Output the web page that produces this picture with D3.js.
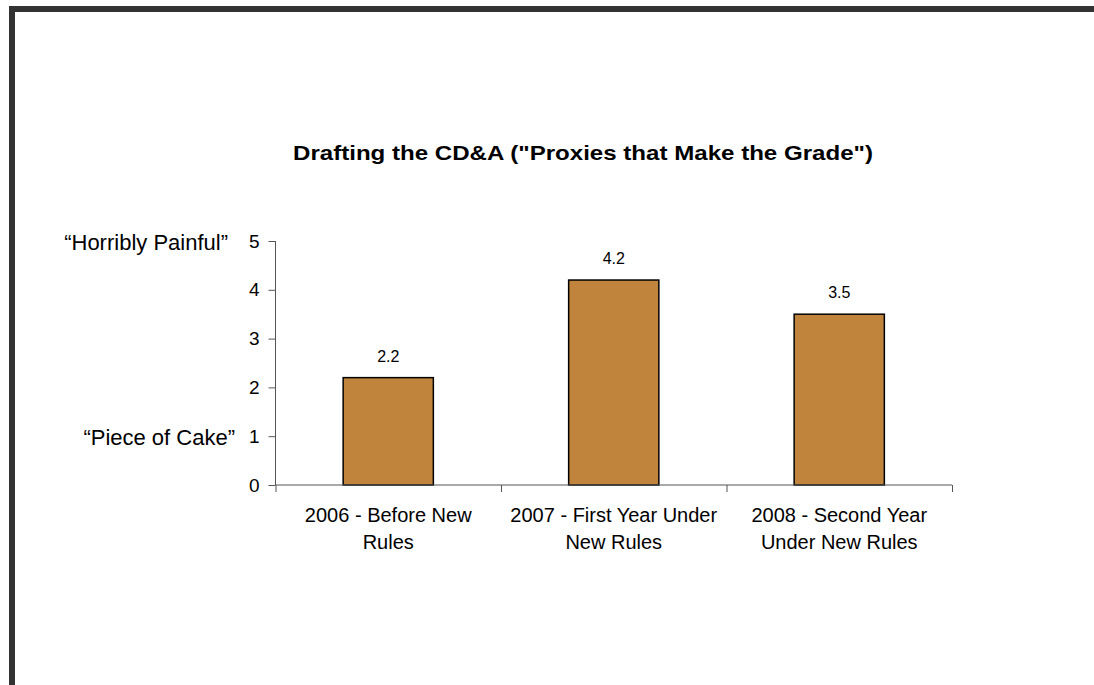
<!DOCTYPE html>
<html>
<head>
<meta charset="utf-8">
<script src="https://cdn.jsdelivr.net/npm/d3@7"></script>
<style>
  html, body { margin: 0; padding: 0; background: #fff; }
  svg { display: block; }
  text { font-family: "Liberation Sans", Arial, sans-serif; fill: #000; }
</style>
</head>
<body>
<svg id="chart" width="1094" height="685"></svg>
<script>
// Survey results: how painful was drafting the CD&A each year
const categories = ["2006", "2007", "2008"];
const categoryLines = [
  ["2006 - Before New", "Rules"],
  ["2007 - First Year Under", "New Rules"],
  ["2008 - Second Year", "Under New Rules"]
];
const values = [2.2, 4.2, 3.5];
const yTicks = [0, 1, 2, 3, 4, 5];
const scaleLabels = [
  { value: 5, text: "\u201CHorribly Painful\u201D" },
  { value: 1, text: "\u201CPiece of Cake\u201D" }
];
const title = "Drafting the CD&A (\"Proxies that Make the Grade\")";

const svg = d3.select("#chart");

// Frame along the top and left edges
svg.append("rect").attr("x", 9).attr("y", 6).attr("width", 1085).attr("height", 6).attr("fill", "#333");
svg.append("rect").attr("x", 9).attr("y", 6).attr("width", 6).attr("height", 679).attr("fill", "#333");

const plot = { left: 275.5, right: 952, top: 241, bottom: 485 };

const x = d3.scaleBand()
  .domain(categories)
  .range([plot.left, plot.right])
  .paddingInner(0.6)
  .paddingOuter(0.3);

const xEdges = d3.scaleLinear().domain([0, categories.length]).range([plot.left, plot.right]);

const y = d3.scaleLinear().domain([0, 5]).range([plot.bottom, plot.top]);

// Title
svg.append("text")
  .attr("x", 583)
  .attr("y", 160)
  .attr("text-anchor", "middle")
  .attr("font-weight", "bold")
  .attr("font-size", 21)
  .attr("textLength", 580)
  .attr("lengthAdjust", "spacingAndGlyphs")
  .text(title);

// Bars
svg.append("g").selectAll("rect")
  .data(values)
  .join("rect")
  .attr("x", (d, i) => x(categories[i]))
  .attr("y", d => y(d))
  .attr("width", x.bandwidth())
  .attr("height", d => y(0) - y(d))
  .attr("fill", "#C0843D")
  .attr("stroke", "#000")
  .attr("stroke-width", 1.5);

// Value labels
svg.append("g").selectAll("text")
  .data(values)
  .join("text")
  .attr("x", (d, i) => x(categories[i]) + x.bandwidth() / 2)
  .attr("y", d => y(d) - 16)
  .attr("text-anchor", "middle")
  .attr("font-size", 16)
  .text(d => d.toFixed(1));

// Y axis
const yAxis = svg.append("g")
  .attr("transform", `translate(${plot.left},0)`)
  .call(d3.axisLeft(y).tickValues(yTicks).tickSize(7).tickPadding(9).tickFormat(d3.format("d")));
yAxis.selectAll("path, line").attr("stroke", "#555").attr("stroke-width", 1);
yAxis.select(".domain").attr("d", `M0,${plot.bottom}V${plot.top}`);
yAxis.selectAll("text").attr("font-size", 19).attr("font-family", "Liberation Sans, Arial, sans-serif").attr("fill", "#000");

// Scale anchors beside the y axis
svg.append("g").selectAll("text")
  .data(scaleLabels)
  .join("text")
  .attr("x", (d, i) => i === 0 ? 228 : 235)
  .attr("y", d => y(d.value) + 9)
  .attr("text-anchor", "end")
  .attr("font-size", 22)
  .attr("fill", "#222")
  .text(d => d.text);

// X axis with ticks between categories
const xAxis = svg.append("g")
  .attr("transform", `translate(0,${plot.bottom})`)
  .call(d3.axisBottom(xEdges).ticks(categories.length).tickSize(7).tickFormat(""));
xAxis.selectAll("path, line").attr("stroke", "#555").attr("stroke-width", 1);
xAxis.select(".domain").attr("d", `M${plot.left},0H${plot.right}`);

// Category labels, two lines each
const catLabels = svg.append("g").selectAll("text")
  .data(categoryLines)
  .join("text")
  .attr("text-anchor", "middle")
  .attr("font-size", 20);
catLabels.each(function(lines, i) {
  const cx = x(categories[i]) + x.bandwidth() / 2;
  d3.select(this).selectAll("tspan")
    .data(lines)
    .join("tspan")
    .attr("x", cx)
    .attr("y", (d, j) => 522 + j * 27)
    .text(d => d);
});
</script>
</body>
</html>
